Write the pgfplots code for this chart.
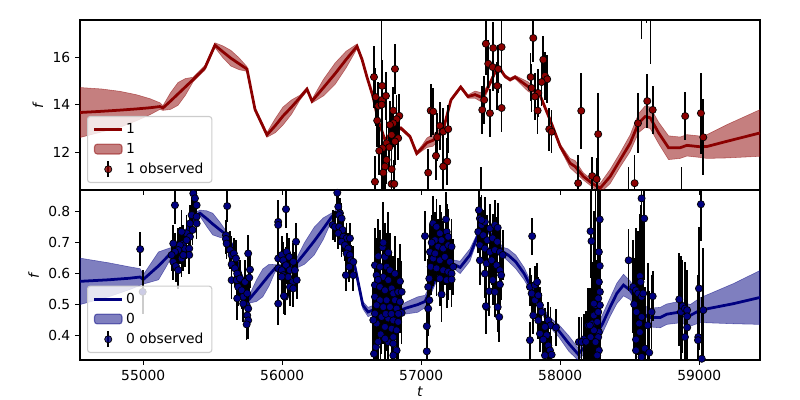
\documentclass[border=0pt]{standalone}
\usepackage{fontspec}
\setmainfont{DejaVu Sans}
\usepackage{pgfplots}
\pgfplotsset{compat=1.18}
\usepackage{pgfplotstable}
\usepgfplotslibrary{fillbetween}
\definecolor{dred}{RGB}{139,0,0}
\definecolor{dnavy}{RGB}{0,0,128}
\definecolor{legframe}{RGB}{204,204,204}

\pgfplotstableread{
t y lo hi
54545 13.67 12.62 14.72
54700 13.72 12.85 14.66
54833 13.77 13.05 14.56
54950 13.82 13.32 14.42
55049 13.87 13.58 14.25
55120 13.92 13.80 14.08
55142 13.86 13.76 13.96
55196 14.15 13.80 14.50
55250 14.45 13.97 14.93
55304 14.75 14.40 15.10
55358 15.05 14.95 15.15
55444 15.55 15.45 15.65
55516 16.50 16.40 16.60
55573 16.22 15.97 16.47
55631 15.95 15.62 16.28
55689 15.72 15.47 15.97
55746 15.50 15.40 15.60
55804 13.80 13.72 13.88
55890 12.73 12.63 12.83
55950 13.12 12.82 13.42
56005 13.52 13.14 13.90
56067 13.90 13.60 14.20
56128 14.30 14.20 14.40
56178 14.65 14.57 14.73
56214 14.15 14.07 14.23
56297 14.72 14.37 15.07
56380 15.30 14.85 15.75
56460 15.90 15.55 16.25
56538 16.45 16.35 16.55
56574 15.90 15.82 15.98
56610 15.15 15.07 15.23
56653 14.34 14.27 14.41
56689 13.36 13.29 13.43
56739 12.52 12.45 12.59
56797 12.87 12.80 12.94
56854 13.01 12.94 13.08
56919 12.66 12.59 12.73
56967 11.95 11.88 12.02
57005 12.17 12.05 12.29
57041 12.40 12.20 12.60
57084 12.50 12.25 12.75
57120 12.70 12.48 12.92
57156 12.90 12.80 13.00
57214 14.20 14.13 14.27
57284 14.74 14.67 14.81
57336 14.34 14.27 14.41
57387 14.42 14.27 14.57
57437 14.30 14.10 14.50
57470 14.60 14.45 14.75
57495 14.90 14.80 15.00
57545 15.54 15.47 15.61
57567 15.50 15.43 15.57
57603 15.19 15.12 15.26
57639 15.05 14.98 15.12
57675 15.16 15.09 15.23
57768 14.76 14.56 14.96
57854 14.40 14.30 14.50
57927 13.36 13.28 13.44
58000 12.24 12.14 12.34
58071 11.54 11.34 11.74
58107 11.40 11.15 11.65
58167 10.98 10.83 11.13
58228 10.70 10.55 10.85
58287 10.49 10.29 10.69
58359 10.98 10.68 11.28
58431 11.68 11.38 11.98
58503 12.38 12.03 12.73
58563 13.22 12.82 13.62
58611 13.50 13.05 13.95
58647 13.45 13.00 13.90
58707 12.82 12.37 13.27
58779 12.19 11.69 12.69
58863 12.19 11.74 12.64
58911 12.29 11.84 12.74
59007 12.23 11.78 12.68
59055 12.24 11.74 12.74
59199 12.46 11.76 13.16
59437 12.81 11.83 13.79
}\topmod

\pgfplotstableread{
t f e
56660 15.16 1.3
56672 14.32 1.2
56691 13.95 1.0
56719 14.79 1.1
56719 14.20 1.0
56746 14.37 1.0
56683 13.33 1.1
56811 15.50 1.05
56799 13.75 1.0
56842 13.53 0.9
56823 13.39 1.0
56799 13.22 1.0
56775 13.15 1.0
56787 12.73 1.0
56834 12.59 0.9
56811 12.45 1.0
56751 12.38 1.0
56770 12.21 1.0
56722 12.17 1.0
56698 12.06 1.0
56751 11.68 1.0
56739 11.40 1.0
56727 11.14 1.1
56787 11.29 1.0
56667 10.76 1.1
56787 10.67 1.0
56806 10.67 1.0
56715 14.00 3.6
57068 13.75 1.1
57086 13.71 1.0
57134 13.11 1.0
57115 12.63 1.0
57106 11.85 1.0
57158 12.87 1.0
57194 12.97 1.0
57187 11.61 1.0
57158 11.40 1.0
57050 11.14 1.0
57429 9.50 1.88
57465 16.56 1.3
57518 16.38 1.1
57578 16.42 1.1
57482 15.72 1.0
57514 15.58 1.0
57554 15.50 1.0
57547 14.79 1.0
57453 14.20 1.0
57439 13.78 1.0
57494 13.64 1.0
57578 13.86 1.0
57806 16.80 1.0
57878 15.89 1.0
57890 15.21 1.0
57906 15.07 1.0
57866 14.95 1.0
57787 15.16 1.0
57794 14.70 1.0
57842 14.49 1.0
57818 14.34 1.0
57837 13.75 1.0
57921 12.97 0.9
57938 12.86 0.9
58151 13.74 1.6
58273 12.76 1.75
58230 11.00 0.8
58262 10.87 0.9
58129 10.70 1.2
58492 9.80 1.6
58535 10.70 1.2
58559 13.22 1.25
58585 18.30 1.55
58621 18.30 0.85
58626 14.15 1.15
58650 18.50 2.80
58665 13.78 1.0
58873 9.80 1.6
58899 13.52 1.0
59012 13.64 1.7
59029 12.63 1.6
}\topobs

\pgfplotstableread{
t y lo hi
54545 0.575 0.500 0.650
54750 0.580 0.525 0.635
54900 0.585 0.548 0.622
54977 0.589 0.562 0.616
55000 0.581 0.566 0.596
55055 0.603 0.573 0.633
55110 0.625 0.580 0.670
55160 0.648 0.618 0.678
55206 0.670 0.655 0.685
55300 0.730 0.720 0.740
55372 0.785 0.773 0.797
55408 0.795 0.785 0.805
55455 0.778 0.753 0.803
55500 0.760 0.725 0.795
55550 0.742 0.717 0.767
55602 0.724 0.714 0.734
55650 0.680 0.670 0.690
55700 0.600 0.590 0.610
55768 0.520 0.505 0.535
55815 0.545 0.510 0.580
55860 0.570 0.525 0.615
55905 0.595 0.560 0.630
55948 0.617 0.605 0.629
56019 0.620 0.610 0.630
56091 0.627 0.615 0.639
56160 0.665 0.630 0.700
56230 0.705 0.660 0.750
56295 0.745 0.710 0.780
56357 0.784 0.772 0.796
56400 0.800 0.790 0.810
56451 0.720 0.710 0.730
56523 0.622 0.610 0.634
56580 0.498 0.486 0.510
56617 0.476 0.461 0.491
56652 0.482 0.467 0.497
56750 0.495 0.483 0.507
56847 0.482 0.467 0.497
56900 0.490 0.470 0.510
56975 0.500 0.475 0.525
57027 0.510 0.490 0.530
57100 0.580 0.565 0.595
57200 0.630 0.615 0.645
57243 0.628 0.613 0.643
57280 0.620 0.600 0.640
57350 0.660 0.640 0.680
57408 0.724 0.714 0.734
57480 0.740 0.730 0.750
57588 0.670 0.655 0.685
57625 0.660 0.640 0.680
57680 0.638 0.616 0.660
57740 0.600 0.580 0.620
57797 0.550 0.535 0.565
57860 0.490 0.475 0.505
57920 0.445 0.430 0.460
57990 0.415 0.395 0.435
58060 0.375 0.350 0.400
58128 0.340 0.320 0.360
58170 0.360 0.340 0.380
58243 0.395 0.370 0.420
58301 0.435 0.405 0.465
58359 0.492 0.462 0.522
58407 0.536 0.503 0.569
58455 0.563 0.528 0.598
58503 0.546 0.516 0.576
58551 0.514 0.484 0.544
58599 0.471 0.441 0.501
58635 0.458 0.428 0.488
58719 0.458 0.425 0.491
58767 0.469 0.436 0.502
58863 0.476 0.441 0.511
58935 0.465 0.430 0.500
59007 0.482 0.442 0.522
59247 0.503 0.438 0.568
59437 0.523 0.436 0.610
}\botmod

\pgfplotstableread{
t f e
54978 0.679 0.055
54996 0.541 0.070
55228 0.821 0.06
55360 0.859 0.06
55372 0.843 0.06
55384 0.821 0.05
55348 0.789 0.06
55384 0.784 0.05
55336 0.762 0.06
55355 0.741 0.05
55384 0.762 0.05
55312 0.730 0.06
55336 0.719 0.06
55276 0.735 0.07
55288 0.697 0.06
55300 0.681 0.06
55331 0.681 0.05
55331 0.660 0.06
55264 0.692 0.06
55252 0.676 0.07
55216 0.697 0.06
55228 0.670 0.06
55216 0.638 0.06
55235 0.624 0.05
55252 0.611 0.06
55276 0.649 0.06
55288 0.660 0.05
55312 0.708 0.06
55204 0.660 0.05
55604 0.818 0.05
55595 0.724 0.05
55595 0.712 0.05
55600 0.697 0.05
55624 0.676 0.06
55636 0.660 0.06
55652 0.665 0.05
55667 0.649 0.06
55636 0.630 0.06
55660 0.617 0.06
55676 0.600 0.06
55636 0.579 0.06
55672 0.579 0.06
55696 0.584 0.06
55683 0.557 0.06
55708 0.546 0.06
55732 0.573 0.07
55755 0.665 0.06
55768 0.613 0.06
55763 0.587 0.06
55719 0.525 0.06
55748 0.536 0.06
55676 0.520 0.07
55744 0.498 0.06
55719 0.503 0.06
55755 0.487 0.06
55748 0.465 0.06
55755 0.449 0.06
55744 0.436 0.05
55971 0.767 0.07
55971 0.757 0.07
56027 0.808 0.06
55971 0.649 0.06
55996 0.660 0.06
55971 0.617 0.06
56007 0.643 0.06
56032 0.670 0.06
56050 0.654 0.06
56027 0.627 0.06
56055 0.611 0.06
55996 0.611 0.06
56007 0.595 0.06
56043 0.589 0.06
56079 0.638 0.06
56099 0.703 0.06
56091 0.611 0.06
56075 0.573 0.06
56104 0.579 0.06
56055 0.557 0.06
56019 0.525 0.06
55971 0.503 0.07
56079 0.552 0.06
56012 0.528 0.06
55996 0.590 0.06
56396 0.861 0.05
56403 0.816 0.05
56415 0.795 0.05
56410 0.789 0.05
56427 0.778 0.05
56363 0.757 0.05
56379 0.751 0.05
56410 0.751 0.05
56434 0.741 0.05
56403 0.730 0.05
56439 0.719 0.05
56463 0.714 0.05
56427 0.703 0.05
56451 0.692 0.05
56487 0.714 0.05
56475 0.681 0.05
56463 0.665 0.05
56487 0.660 0.05
56494 0.643 0.05
56511 0.638 0.05
56482 0.622 0.05
56458 0.595 0.05
56511 0.595 0.05
56722 0.685 0.12
56691 0.656 0.12
56739 0.654 0.11
56667 0.627 0.12
56703 0.622 0.12
56751 0.622 0.11
56775 0.611 0.12
56679 0.595 0.12
56727 0.589 0.12
56763 0.579 0.11
56667 0.563 0.12
56703 0.557 0.11
56739 0.546 0.12
56787 0.552 0.11
56799 0.536 0.12
56834 0.541 0.11
56859 0.541 0.10
56667 0.525 0.12
56703 0.514 0.12
56751 0.514 0.12
56811 0.514 0.12
56847 0.509 0.10
56679 0.498 0.12
56727 0.492 0.12
56775 0.492 0.12
56823 0.487 0.12
56859 0.473 0.10
56667 0.471 0.12
56715 0.460 0.12
56763 0.455 0.12
56799 0.449 0.12
56834 0.444 0.12
56679 0.439 0.12
56739 0.428 0.12
56787 0.422 0.12
56823 0.417 0.12
56708 0.404 0.12
56799 0.395 0.12
56763 0.379 0.12
56799 0.374 0.12
56674 0.363 0.12
56660 0.341 0.12
56823 0.352 0.12
56799 0.336 0.12
56727 0.700 0.13
56763 0.668 0.13
56811 0.600 0.12
56847 0.575 0.12
56655 0.450 0.12
56690 0.580 0.13
56745 0.470 0.12
56785 0.470 0.12
56835 0.470 0.11
56690 0.380 0.12
56740 0.390 0.12
57027 0.721 0.08
57040 0.430 0.09
57040 0.349 0.10
57063 0.670 0.09
57068 0.622 0.09
57058 0.584 0.09
57050 0.557 0.09
57058 0.514 0.09
57050 0.487 0.09
57086 0.762 0.09
57110 0.751 0.09
57134 0.730 0.09
57099 0.708 0.09
57146 0.708 0.09
57183 0.735 0.09
57122 0.687 0.09
57158 0.681 0.09
57194 0.692 0.09
57218 0.687 0.09
57086 0.649 0.09
57134 0.643 0.09
57170 0.654 0.09
57206 0.638 0.09
57110 0.617 0.09
57158 0.611 0.09
57194 0.606 0.09
57218 0.600 0.09
57134 0.584 0.09
57183 0.579 0.09
57146 0.533 0.09
57230 0.622 0.09
57218 0.581 0.09
57178 0.775 0.09
57194 0.719 0.09
57100 0.665 0.09
57075 0.700 0.09
57415 0.805 0.07
57422 0.778 0.07
57410 0.735 0.07
57434 0.757 0.08
57458 0.767 0.08
57494 0.746 0.08
57530 0.757 0.08
57550 0.748 0.08
57446 0.724 0.08
57475 0.708 0.08
57514 0.714 0.08
57547 0.703 0.08
57422 0.692 0.08
57458 0.681 0.08
57494 0.670 0.08
57530 0.676 0.08
57566 0.670 0.08
57586 0.660 0.08
57422 0.643 0.08
57470 0.633 0.08
57506 0.643 0.08
57542 0.627 0.08
57566 0.611 0.08
57458 0.600 0.08
57514 0.579 0.08
57489 0.543 0.08
57530 0.541 0.08
57566 0.565 0.08
57470 0.492 0.08
57550 0.492 0.08
57561 0.460 0.08
57434 0.773 0.08
57575 0.595 0.08
57465 0.495 0.09
57798 0.721 0.06
57782 0.557 0.06
57794 0.536 0.06
57818 0.563 0.06
57834 0.573 0.06
57818 0.514 0.06
57842 0.530 0.06
57854 0.498 0.06
57806 0.465 0.06
57866 0.476 0.06
57842 0.449 0.06
57914 0.449 0.06
57931 0.433 0.06
57890 0.428 0.06
57854 0.406 0.06
57902 0.401 0.06
57969 0.426 0.06
57782 0.385 0.06
57878 0.387 0.06
57914 0.368 0.06
57926 0.352 0.06
57890 0.336 0.06
57938 0.338 0.06
58134 0.379 0.08
58170 0.388 0.08
58201 0.433 0.12
58218 0.737 0.15
58225 0.705 0.18
58230 0.439 0.20
58242 0.465 0.25
58254 0.498 0.38
58266 0.444 0.20
58273 0.476 0.40
58284 0.775 0.20
58278 0.670 0.25
58284 0.625 0.30
58278 0.573 0.30
58285 0.541 0.40
58273 0.520 0.25
58285 0.498 0.30
58278 0.411 0.25
58273 0.395 0.20
58278 0.352 0.20
58266 0.336 0.20
58254 0.379 0.20
58242 0.417 0.20
58218 0.395 0.15
58154 0.379 0.08
58185 0.380 0.10
58242 0.503 0.30
58213 0.433 0.12
58492 0.643 0.10
58585 0.843 0.20
58604 0.778 0.20
58573 0.592 0.20
58578 0.573 0.25
58525 0.557 0.15
58545 0.546 0.20
58561 0.536 0.20
58585 0.525 0.25
58597 0.536 0.25
58532 0.501 0.15
58665 0.527 0.08
58549 0.476 0.20
58585 0.460 0.25
58629 0.433 0.20
58568 0.439 0.20
58657 0.476 0.12
58545 0.387 0.20
58609 0.358 0.20
58545 0.352 0.20
58640 0.345 0.20
58585 0.331 0.20
58573 0.411 0.20
58856 0.517 0.15
58868 0.476 0.18
58880 0.495 0.15
58897 0.487 0.15
58913 0.482 0.13
58913 0.462 0.13
58913 0.426 0.12
58897 0.395 0.12
58998 0.552 0.20
59012 0.824 0.12
58993 0.395 0.20
58991 0.385 0.20
59029 0.482 0.20
59018 0.325 0.20
}\botobs

\pgfplotsset{
  panel/.style={
    scale only axis, width=6.8in, height=1.7in,
    xmin=54545, xmax=59437,
    tick align=outside, tick pos=left,
    major tick length=3.5pt,
    every tick/.style={black, line width=0.8pt},
    axis line style={line width=0.8pt},
    xtick={55000,56000,57000,58000,59000},
    scaled x ticks=false, scaled y ticks=false,
    /pgf/number format/assume math mode=true,
    /pgf/number format/1000 sep={},
    xticklabel style={/pgf/number format/fixed, /pgf/number format/precision=0},
    tick label style={font=\fontsize{10}{12}\selectfont},
    label style={font=\fontsize{10}{12}\selectfont},
    ylabel={\textit{f}},
    legend style={at={(0.0103,0.041)}, anchor=south west,
      draw=legframe, line width=0.8pt, rounded corners=2pt,
      fill=white, fill opacity=0.8, text opacity=1, draw opacity=1,
      font=\fontsize{10}{12}\selectfont,
      inner xsep=4pt, inner ysep=3pt, row sep=1.5pt},
    legend cell align=left,
  },
  obs/.style={only marks, mark=*, mark size=2.6pt,
    mark options={fill=#1, draw=black, line width=0.5pt},
    error bars/.cd, y dir=both, y explicit,
    error bar style={black, line width=1.2pt}, error mark=none,
    /pgfplots/.cd},
}

\begin{document}
\begin{tikzpicture}

% bottom panel
\begin{axis}[panel, at={(0,0)}, anchor=south west,
  ymin=0.321, ymax=0.870,
  ytick={0.4,0.5,0.6,0.7,0.8},
  yticklabel style={/pgf/number format/fixed, /pgf/number format/precision=1, /pgf/number format/fixed zerofill},
  xlabel={\textit{t}},
  xlabel style={yshift=2pt},
]
\addplot[draw=none, name path=bhi, forget plot] table[x=t, y=hi] {\botmod};
\addplot[draw=none, name path=blo, forget plot] table[x=t, y=lo] {\botmod};
\addplot[fill=dnavy, fill opacity=0.5, draw=dnavy, draw opacity=0.5, forget plot] fill between[of=bhi and blo];
\addplot[dnavy, line width=2pt, forget plot] table[x=t, y=y] {\botmod};
\addplot[forget plot, obs=dnavy] table[x=t, y=f, y error=e] {\botobs};
\addlegendimage{legend image code/.code={\draw[dnavy, line width=2pt] (0cm,0cm) -- (0.7cm,0cm);}}
\addlegendentry{0}
\addlegendimage{legend image code/.code={\draw[fill=dnavy, fill opacity=0.5, draw=dnavy, draw opacity=0.5] (0cm,-0.12cm) rectangle (0.7cm,0.13cm);}}
\addlegendentry{0}
\addlegendimage{legend image code/.code={\draw[black, line width=1.2pt] (0.35cm,-0.2cm) -- (0.35cm,0.2cm); \draw[fill=dnavy, draw=black, line width=0.5pt] (0.35cm,0cm) circle (2.6pt);}}
\addlegendentry{0 observed}
\end{axis}

% top panel
\begin{axis}[panel, at={(0,1.7in)}, anchor=south west,
  ymin=10.413, ymax=17.558,
  ytick={12,14,16},
  xticklabels={},
]
\addplot[draw=none, name path=thi, forget plot] table[x=t, y=hi] {\topmod};
\addplot[draw=none, name path=tlo, forget plot] table[x=t, y=lo] {\topmod};
\addplot[fill=dred, fill opacity=0.5, draw=dred, draw opacity=0.5, forget plot] fill between[of=thi and tlo];
\addplot[dred, line width=2pt, forget plot] table[x=t, y=y] {\topmod};
\addplot[forget plot, obs=dred] table[x=t, y=f, y error=e] {\topobs};
\addlegendimage{legend image code/.code={\draw[dred, line width=2pt] (0cm,0cm) -- (0.7cm,0cm);}}
\addlegendentry{1}
\addlegendimage{legend image code/.code={\draw[fill=dred, fill opacity=0.5, draw=dred, draw opacity=0.5] (0cm,-0.12cm) rectangle (0.7cm,0.13cm);}}
\addlegendentry{1}
\addlegendimage{legend image code/.code={\draw[black, line width=1.2pt] (0.35cm,-0.2cm) -- (0.35cm,0.2cm); \draw[fill=dred, draw=black, line width=0.5pt] (0.35cm,0cm) circle (2.6pt);}}
\addlegendentry{1 observed}
\end{axis}
\pgfresetboundingbox
\path[use as bounding box] (-0.8in,-0.4in) rectangle (7.2in,3.6in);
\end{tikzpicture}
\end{document}
